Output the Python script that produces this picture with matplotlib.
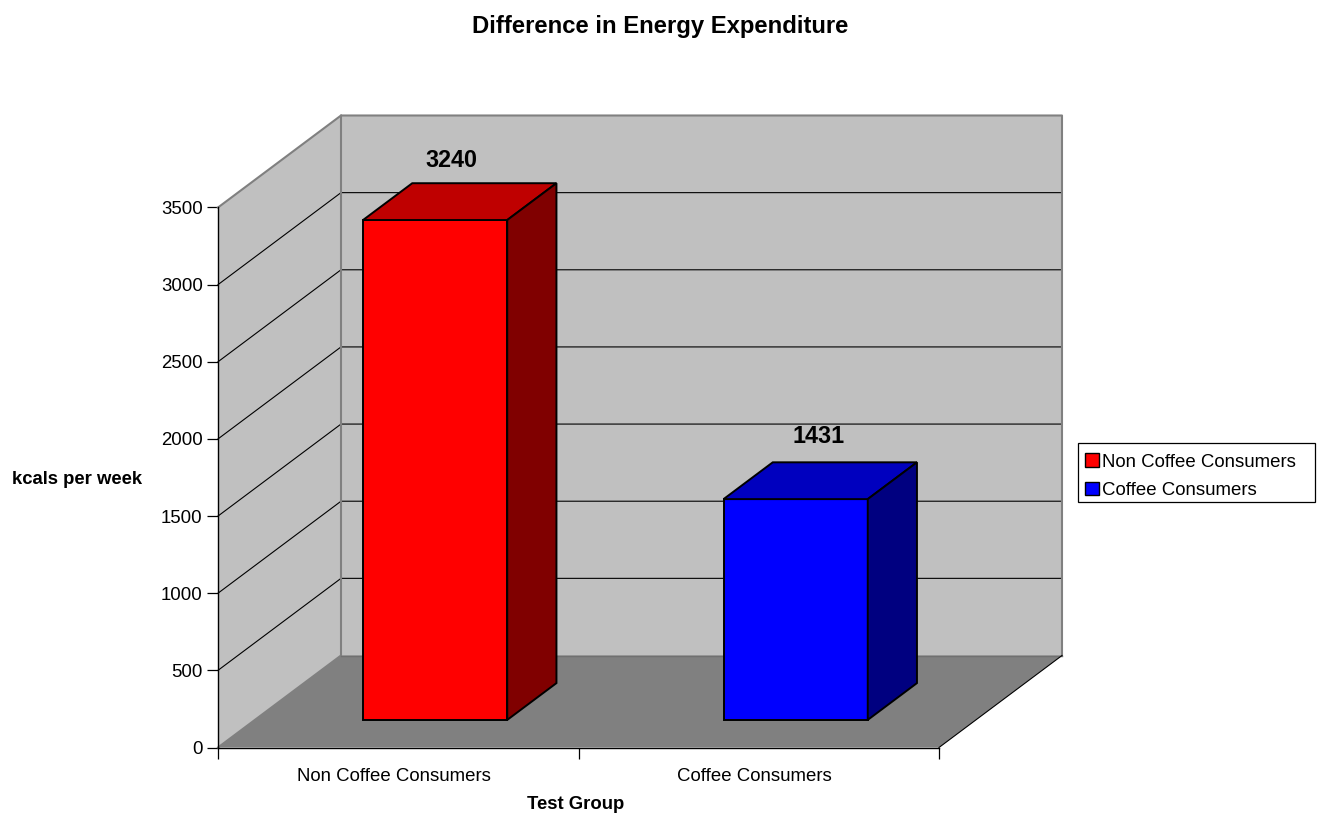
import numpy as np
import matplotlib.pyplot as plt
from matplotlib.patches import Polygon, Patch, Rectangle
from matplotlib.transforms import ScaledTranslation

plt.rcParams['font.family'] = ['Liberation Sans', 'DejaVu Sans']

W, H = 1318, 813

title = 'Difference in Energy Expenditure'
groups = ['Non Coffee Consumers', 'Coffee Consumers']
values = [3240, 1431]
front_colors = ['#ff0000', '#0000ff']
top_colors = ['#bf0000', '#0000bf']
side_colors = ['#800000', '#000080']
yticks = [0, 500, 1000, 1500, 2000, 2500, 3000, 3500]

fig = plt.figure(figsize=(W / 100, H / 100), dpi=100)
ax = fig.add_axes([218 / W, (H - 747.5) / H, 721 / W, 540 / H])
ax.set_xlim(0, len(groups))
ax.set_ylim(0, 3500)

# depth of the fake 3d box, in data units
depth_x = 123 / 360.5
depth_y = 92 / (540 / 3500)


def proj(x, y, d):
    # d=0 is the front plane, d=1 the back wall
    return (x + d * depth_x, y + d * depth_y)


def face(pts, color, ec='none', lw=0.0, z=1):
    ax.add_patch(Polygon(pts, closed=True, facecolor=color, edgecolor=ec,
                         linewidth=lw, zorder=z, clip_on=False, joinstyle='miter'))


n = len(groups)
ymax = yticks[-1]

# walls and floor
face([proj(0, 0, 1), proj(n, 0, 1), proj(n, ymax, 1), proj(0, ymax, 1)], '#c0c0c0')
face([proj(0, 0, 0), proj(0, 0, 1), proj(0, ymax, 1), proj(0, ymax, 0)], '#c0c0c0')
face([proj(0, 0, 0), proj(n, 0, 0), proj(n, 0, 1), proj(0, 0, 1)], '#808080')

# grid
for v in yticks[1:-1]:
    p = [proj(0, v, 0), proj(0, v, 1), proj(n, v, 1)]
    ax.plot(*zip(*p), color='black', lw=0.8, zorder=2, clip_on=False)

# wall edges
edge = [proj(0, 0, 0), proj(0, 0, 1), proj(0, ymax, 1), proj(n, ymax, 1), proj(n, 0, 1)]
ax.plot(*zip(*edge), color='#808080', lw=1.5, zorder=2, clip_on=False)
ax.plot(*zip(proj(0, ymax, 0), proj(0, ymax, 1)), color='#808080', lw=1.5, zorder=2, clip_on=False)
ax.plot(*zip(proj(0, 0, 1), proj(n, 0, 1)), color='#707070', lw=1, zorder=2, clip_on=False)
ax.plot(*zip(proj(n, 0, 0), proj(n, 0, 1)), color='black', lw=0.8, zorder=2, clip_on=False)

# bars
x0, x1 = 0.3, 0.7
d0, d1 = 0.3, 0.7
for i, v in enumerate(values):
    a, b = i + x0, i + x1
    face([proj(a, 0, d0), proj(b, 0, d0), proj(b, v, d0), proj(a, v, d0)],
         front_colors[i], 'black', 1.4, 3)
    face([proj(a, v, d0), proj(b, v, d0), proj(b, v, d1), proj(a, v, d1)],
         top_colors[i], 'black', 1.4, 3)
    face([proj(b, 0, d0), proj(b, 0, d1), proj(b, v, d1), proj(b, v, d0)],
         side_colors[i], 'black', 1.4, 3)

# value labels
label_d = [0.435, 0.49]
label_lift = [564, 585]
for i, v in enumerate(values):
    lx, ly = proj(i + 0.5, v, label_d[i])
    ax.text(lx, v + label_lift[i], str(v), ha='center', va='center', fontsize=16.8,
            fontweight='bold', zorder=4, clip_on=False)

# axes
for s in ['top', 'right']:
    ax.spines[s].set_visible(False)
for s in ['left', 'bottom']:
    ax.spines[s].set_linewidth(1.0)
    ax.spines[s].set_zorder(5)
ax.patch.set_visible(False)
ax.set_yticks(yticks)
ax.tick_params(axis='y', labelsize=13.45, length=8, width=0.9, pad=3)
ax.set_xticks(np.arange(n + 1))
ax.set_xticklabels([])
ax.tick_params(axis='x', which='major', length=8, width=0.9)
ax.set_xticks(np.arange(n) + 0.5, minor=True)
ax.set_xticklabels(groups, minor=True, fontsize=13.45)
ax.tick_params(axis='x', which='minor', length=0, pad=15)
# the labels sit a little left of the category centres
shift = ScaledTranslation(-4.5 / 100, 0, fig.dpi_scale_trans)
for lab in ax.get_xticklabels(minor=True):
    lab.set_transform(lab.get_transform() + shift)

fig.text(660 / W, 1 - 26 / H, title, ha='center', va='center', fontsize=17.2, fontweight='bold')
fig.text(77.5 / W, 1 - 479 / H, 'kcals per week', ha='center', va='center', fontsize=13.35, fontweight='bold')
fig.text(576 / W, 1 - 804 / H, 'Test Group', ha='center', va='center', fontsize=13.35, fontweight='bold')

fig.patches.append(Rectangle((1078 / W, 1 - 502 / H), 237 / W, 59 / H, transform=fig.transFigure,
                             facecolor='white', edgecolor='black', linewidth=0.9, figure=fig))
handles = [Patch(facecolor=c, edgecolor='black', linewidth=1.0) for c in front_colors]
leg = fig.legend(handles, groups, loc='upper left', bbox_to_anchor=(1078 / W, 1 - 446 / H),
                 bbox_transform=fig.transFigure, borderaxespad=0, fontsize=13.45,
                 frameon=False, handlelength=0.7, handleheight=0.7, handletextpad=0.2,
                 labelspacing=0.6, borderpad=0.4)

fig.savefig('out.png', dpi=100)
